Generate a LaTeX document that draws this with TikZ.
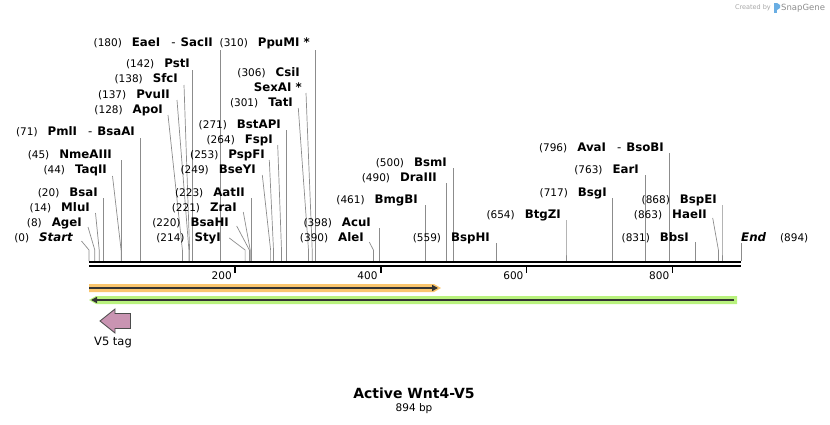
\documentclass[tikz,border=0pt]{standalone}
\usepackage{fontspec}
\setmainfont{DejaVu Sans}
\usetikzlibrary{positioning,arrows.meta}

\definecolor{orangeband}{HTML}{FAC66E}
\definecolor{greenband}{HTML}{B9F27E}
\definecolor{vpink}{HTML}{C994B2}

\newcommand{\numfont}{\fontsize{10.5}{12}\selectfont\mdseries}
\newcommand{\namefont}{\fontsize{11.8}{13}\selectfont\bfseries}
\newcommand{\enz}[2]{{\numfont(#1)}\hspace{10pt}{\namefont #2}}
\newcommand{\orsite}{\hspace{11pt}{\mdseries -}\hspace{5pt}}

\tikzset{
  enzlabel/.style={anchor=base east, inner sep=0pt},
  cutline/.style={draw=black!45, line width=0.7pt},
  seqline/.style={line width=2.5pt},
  tick/.style={line width=1.6pt},
  ticklabel/.style={anchor=east, inner sep=0pt, font=\fontsize{10.5}{12}\selectfont},
  featline/.style={draw=black!80, line width=1.8pt},
}

\begin{document}
\begin{tikzpicture}[x=1pt, y=-1pt]
      \useasboundingbox (0,0) rectangle (830,424);

      \foreach \rx/\ry/\txt/\tx/\ty/\cx [count=\i] in {
        213/42/{\enz{180}{EaeI\orsite SacII}}/220.3/50/220.3,
        310/42/{\enz{310}{PpuMI *}}/315.1/50/315.1,
        190/63/{\enz{142}{PstI}}/192.6/70/192.6,
        178/78/{\enz{138}{SfcI}}/184/85/189.6,
        170/94/{\enz{137}{PvuII}}/177/100/188.9,
        163/109/{\enz{128}{ApoI}}/168/115/182.4,
        135/131/{\enz{71}{PmlI\orsite BsaAI}}/140.8/138/140.8,
        112/154/{\enz{45}{NmeAIII}}/121.8/160/121.8,
        107/169/{\enz{44}{TaqII}}/112.5/176/121.1,
        98/192/{\enz{20}{BsaI}}/103.6/198/103.6,
        90/207/{\enz{14}{MluI}}/95.5/213/99.2,
        82/222/{\enz{8}{AgeI}}/88/227/94.8,
        73/237/{\enz{0}{\itshape Start}}/81.5/241/89,
        302/87/{{\namefont SexAI *}}/306/93/312.2,
        293/102/{\enz{301}{TatI}}/298.3/108/308.5,
        281/124/{\enz{271}{BstAPI}}/286.6/130/286.6,
        273/139/{\enz{264}{FspI}}/277.7/145/281.5,
        265/154/{\enz{253}{PspFI}}/269.3/160/273.5,
        256/169/{\enz{249}{BseYI}}/262.3/175/270.6,
        245/192/{\enz{223}{AatII}}/251.6/198/251.6,
        237/207/{\enz{221}{ZraI}}/243.3/212/250.2,
        229/222/{\enz{220}{BsaHI}}/236.7/226/249.4,
        221/237/{\enz{214}{StyI}}/229.3/238/245.1,
        371/222/{\enz{398}{AcuI}}/379.3/228/379.3,
        364/237/{\enz{390}{AleI}}/369.3/242/373.4,
        447/162/{\enz{500}{BsmI}}/453.7/168/453.7,
        437/177/{\enz{490}{DraIII}}/446.4/183/446.4,
        418/199/{\enz{461}{BmgBI}}/425.2/205/425.2,
        490/237/{\enz{559}{BspHI}}/496.7/243/496.7,
        561/214/{\enz{654}{BtgZI}}/566/220/566,
        664/147/{\enz{796}{AvaI\orsite BsoBI}}/669.5/153/669.5,
        639/169/{\enz{763}{EarI}}/645.5/175/645.5,
        607/192/{\enz{717}{BsgI}}/611.9/198/611.9,
        717/199/{\enz{868}{BspEI}}/722/205/722,
        707/214/{\enz{863}{HaeII}}/712.7/218/718.4,
        689/237/{\enz{831}{BbsI}}/695.1/242/695.1} {
        \node[enzlabel] (l\i) at (\rx,\ry+4) {\txt};
        \coordinate (t\i) at (\tx,\ty);
        \coordinate (c\i) at (\cx,261);
        \draw[cutline] (t\i) -- (\cx,250) -- (c\i);
      }
      \node[enzlabel] (csi) at (300,76) {\enz{306}{CsiI}};
      \node[enzlabel, anchor=base west] (fin) at (741,241)
        {{\namefont\itshape End}\hspace{14pt}{\numfont(894)}};
      \coordinate (tend) at (741,243);
      \coordinate (cend) at (741,261);
      \draw[cutline] (tend) -- (cend);

      \draw[seqline] (89,261.8) -- (741,261.8);
      \draw[seqline] (89,265.8) -- (741,265.8);
      \foreach \x/\n in {234.9/200, 380.7/400, 526.6/600, 672.4/800} {
        \draw[tick] (\x,266) -- (\x,273);
        \node[ticklabel] at (\x-3,276) {\n};
      }

      \fill[orangeband] (89,284) -- (434,284) -- (441,288) -- (434,292) -- (89,292) -- cycle;
      \draw[featline, -{Triangle[length=6pt, width=6pt]}] (89,288) -- (438,288);
      \fill[greenband] (737,296) -- (96,296) -- (89,300) -- (96,304) -- (737,304) -- cycle;
      \draw[featline, -{Triangle[length=6pt, width=6pt]}] (734,300) -- (91,300);

      \draw[fill=vpink, draw=black!70, line width=0.8pt] (100,321) -- (115,309) -- (115,313.5)
        -- (130.5,313.5) -- (130.5,328.5) -- (115,328.5) -- (115,333) -- cycle;
      \node[font=\fontsize{11.5}{13}\selectfont] (v5) at (113,342) {V5 tag};

      \node[font=\fontsize{14}{16}\selectfont\bfseries] (title) at (414,393) {Active Wnt4-V5};
      \node[below=-2pt of title, font=\fontsize{10.5}{12}\selectfont] (len) {894 bp};

      \node[anchor=east, inner sep=0pt, text=black!35, font=\fontsize{6.5}{8}\selectfont] (made) at (771,8) {Created by};
      \fill[cyan!70!blue!60] (774,3) rectangle (777,13);
      \fill[cyan!70!blue!60] (777,3) -- (780,5) -- (780,8) -- (777,10) -- cycle;
      \node[anchor=west, inner sep=0pt, text=black!45, font=\fontsize{8.5}{10}\selectfont] (sg) at (781,8) {SnapGene};
    \end{tikzpicture}
\end{document}
